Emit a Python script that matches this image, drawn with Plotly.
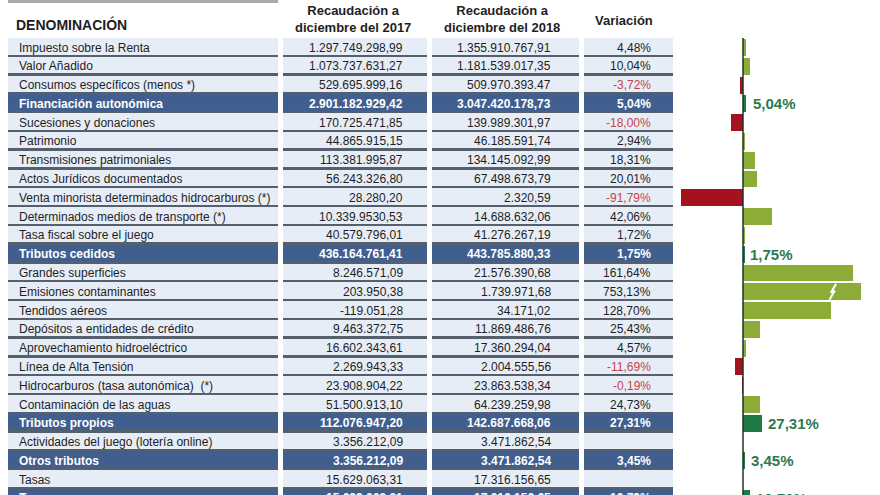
import plotly.graph_objects as go

# ---------------- data ----------------
labels = [
    "Impuesto sobre la Renta", "Valor Añadido", "Consumos específicos (menos *)",
    "Financiación autonómica", "Sucesiones y donaciones", "Patrimonio",
    "Transmisiones patrimoniales", "Actos Jurídicos documentados",
    "Venta minorista determinados hidrocarburos (*)",
    "Determinados medios de transporte (*)", "Tasa fiscal sobre el juego",
    "Tributos cedidos", "Grandes superficies", "Emisiones contaminantes",
    "Tendidos aéreos", "Depósitos a entidades de crédito",
    "Aprovechamiento hidroeléctrico", "Línea de Alta Tensión",
    "Hidrocarburos (tasa autonómica)  (*)", "Contaminación de las aguas",
    "Tributos propios", "Actividades del juego (lotería online)",
    "Otros tributos", "Tasas", "Tasas",
]
is_total = [0, 0, 0, 1, 0, 0, 0, 0, 0, 0, 0, 1, 0, 0, 0, 0, 0, 0, 0, 0, 1, 0, 1, 0, 1]
rec_2017 = [
    "1.297.749.298,99", "1.073.737.631,27", "529.695.999,16", "2.901.182.929,42",
    "170.725.471,85", "44.865.915,15", "113.381.995,87", "56.243.326,80",
    "28.280,20", "10.339.9530,53", "40.579.796,01", "436.164.761,41",
    "8.246.571,09", "203.950,38", "-119.051,28", "9.463.372,75",
    "16.602.343,61", "2.269.943,33", "23.908.904,22", "51.500.913,10",
    "112.076.947,20", "3.356.212,09", "3.356.212,09", "15.629.063,31",
    "15.629.063,31",
]
rec_2018 = [
    "1.355.910.767,91", "1.181.539.017,35", "509.970.393.47", "3.047.420.178,73",
    "139.989.301,97", "46.185.591,74", "134.145.092,99", "67.498.673,79",
    "2.320,59", "14.688.632,06", "41.276.267,19", "443.785.880,33",
    "21.576.390,68", "1.739.971,68", "34.171,02", "11.869.486,76",
    "17.360.294,04", "2.004.555,56", "23.863.538,34", "64.239.259,98",
    "142.687.668,06", "3.471.862,54", "3.471.862,54", "17.316.156,65",
    "17.316.156,65",
]
variacion = [
    4.48, 10.04, -3.72, 5.04, -18.00, 2.94, 18.31, 20.01, -91.79, 42.06, 1.72,
    1.75, 161.64, 753.13, 128.70, 25.43, 4.57, -11.69, -0.19, 24.73, 27.31,
    None, 3.45, None, 10.79,
]

# ---------------- style ----------------
FONT = "Liberation Sans, Arial, sans-serif"
ROW_FILL = "#e7edf6"
TOTAL_FILL = "#405e8e"
SEP = "#56606c"
TXT = "#1e1e1e"
NEG_TXT = "#c4444e"
BAR_POS = "#8bad38"
BAR_NEG = "#a3121d"
BAR_TOT = "#1e7a47"
TOT_LABEL = "#2b7b50"
CAP = 174  # visual cap of the variation bars (broken bar)

# table columns (left, right) in the table axis and text anchor
cols = [(8, 278), (283, 427), (432, 579), (584, 673)]
text_x = [17, 405, 553, 653]

PX_PER_PCT = 0.68
ZERO_PX = 743
ROW_PX = 18.79
ROW0_PX = 47.5
H = 495
Y_RANGE = [(H - ROW0_PX) / ROW_PX, -ROW0_PX / ROW_PX]

n = len(labels)
rows = list(range(n))


def fmt_pct(v):
    return ("%.2f%%" % v).replace(".", ",")


def yspec(i):
    """Row position; rows beyond the visible range fall back to paper coords."""
    if i <= Y_RANGE[0]:
        return dict(y=i, yref="y")
    return dict(y=1 - (ROW0_PX + ROW_PX * i) / H, yref="paper")


fig = go.Figure()

# cell backgrounds + separators
fills = [TOTAL_FILL if t else ROW_FILL for t in is_total]
for (l, r) in cols:
    fig.add_trace(go.Bar(
        orientation="h", y=rows, x=[r - l] * n, base=[l] * n,
        width=0.9, offset=-0.5, marker=dict(color=fills, line=dict(width=0)),
        xaxis="x", yaxis="y", hoverinfo="skip", showlegend=False))
    fig.add_trace(go.Bar(
        orientation="h", y=rows, x=[r - l] * n, base=[l] * n,
        width=0.1, offset=0.4, marker=dict(color=SEP, line=dict(width=0)),
        xaxis="x", yaxis="y", hoverinfo="skip", showlegend=False))

# variation bars
by, bx, bc = [], [], []
for i, v in enumerate(variacion):
    if v is None:
        continue
    by.append(i)
    bx.append(min(v, CAP))
    if is_total[i]:
        bc.append(BAR_TOT)
    elif v < 0:
        bc.append(BAR_NEG)
    else:
        bc.append(BAR_POS)
fig.add_trace(go.Bar(
    orientation="h", y=by, x=bx, width=0.9,
    marker=dict(color=bc, line=dict(width=0)),
    xaxis="x2", yaxis="y", hoverinfo="skip", showlegend=False))

# break mark on the capped bar
for i, v in enumerate(variacion):
    if v is not None and v > CAP:
        m = CAP - 42
        fig.add_trace(go.Scatter(
            x=[m + 5, m - 3, m + 3, m - 5], y=[i - 0.42, i + 0.05, i - 0.05, i + 0.42],
            mode="lines", line=dict(color="white", width=2),
            xaxis="x2", yaxis="y", hoverinfo="skip", showlegend=False))

ann = []
# table text
for i in rows:
    tot = is_total[i]
    base_col = "white" if tot else TXT
    w = "bold" if tot else "normal"
    ys = yspec(i)
    ann.append(dict(x=text_x[0], xref="x", text=labels[i], **ys,
                    xanchor="left", yanchor="middle", showarrow=False,
                    font=dict(family=FONT, size=12, color=base_col, weight=w)))
    ann.append(dict(x=text_x[1], xref="x", text=rec_2017[i], **ys,
                    xanchor="right", yanchor="middle", showarrow=False,
                    font=dict(family=FONT, size=12, color=base_col, weight=w)))
    ann.append(dict(x=text_x[2], xref="x", text=rec_2018[i], **ys,
                    xanchor="right", yanchor="middle", showarrow=False,
                    font=dict(family=FONT, size=12, color=base_col, weight=w)))
    v = variacion[i]
    # rows without a subtotal share show no variation text
    if v is not None and not (i in (21, 23)):
        c = base_col if tot else (NEG_TXT if v < 0 else TXT)
        ann.append(dict(x=text_x[3], xref="x", text=fmt_pct(v), **ys,
                        xanchor="right", yanchor="middle", showarrow=False,
                        font=dict(family=FONT, size=12, color=c, weight=w)))
    if tot and v is not None:
        ann.append(dict(x=min(v, CAP) + 6, xref="x2", text=fmt_pct(v), **ys,
                        xanchor="left", yanchor="middle", showarrow=False,
                        font=dict(family=FONT, size=15, color=TOT_LABEL, weight="bold")))

# headers
ann.append(dict(x=14, y=-1.2, xref="x", yref="y", text="DENOMINACIÓN",
                xanchor="left", yanchor="middle", showarrow=False,
                font=dict(family=FONT, size=14, color=TXT, weight="bold")))
ann.append(dict(x=353, y=-1.5, xref="x", yref="y",
                text="Recaudación a<br>diciembre del 2017",
                xanchor="center", yanchor="middle", showarrow=False,
                font=dict(family=FONT, size=13, color=TXT, weight="bold")))
ann.append(dict(x=502, y=-1.5, xref="x", yref="y",
                text="Recaudación a<br>diciembre del 2018",
                xanchor="center", yanchor="middle", showarrow=False,
                font=dict(family=FONT, size=13, color=TXT, weight="bold")))
ann.append(dict(x=624, y=-1.46, xref="x", yref="y", text="Variación",
                xanchor="center", yanchor="middle", showarrow=False,
                font=dict(family=FONT, size=13, color=TXT, weight="bold")))

shapes = [
    dict(type="rect", xref="x", yref="paper", x0=8, x1=278, y0=1 - 3 / H, y1=1,
         fillcolor="#a7abaf", line=dict(width=0), layer="above"),
    dict(type="line", xref="x2", yref="y", x0=0, x1=0, y0=-0.5, y1=n,
         line=dict(color="#1c3323", width=1.5), layer="above"),
]

fig.update_layout(
    width=880, height=H,
    margin=dict(l=0, r=0, t=0, b=0),
    paper_bgcolor="white", plot_bgcolor="white",
    barmode="overlay", bargap=0,
    annotations=ann, shapes=shapes,
    xaxis=dict(range=[0, 880], visible=False, fixedrange=True),
    xaxis2=dict(range=[-ZERO_PX / PX_PER_PCT, (880 - ZERO_PX) / PX_PER_PCT],
                overlaying="x", visible=False, fixedrange=True),
    yaxis=dict(range=Y_RANGE, visible=False, fixedrange=True),
    showlegend=False,
)

fig.write_html(
    "out.html",
    config={"displayModeBar": False},
    post_script="document.body.style.margin='0';document.body.style.overflow='hidden';",
)
